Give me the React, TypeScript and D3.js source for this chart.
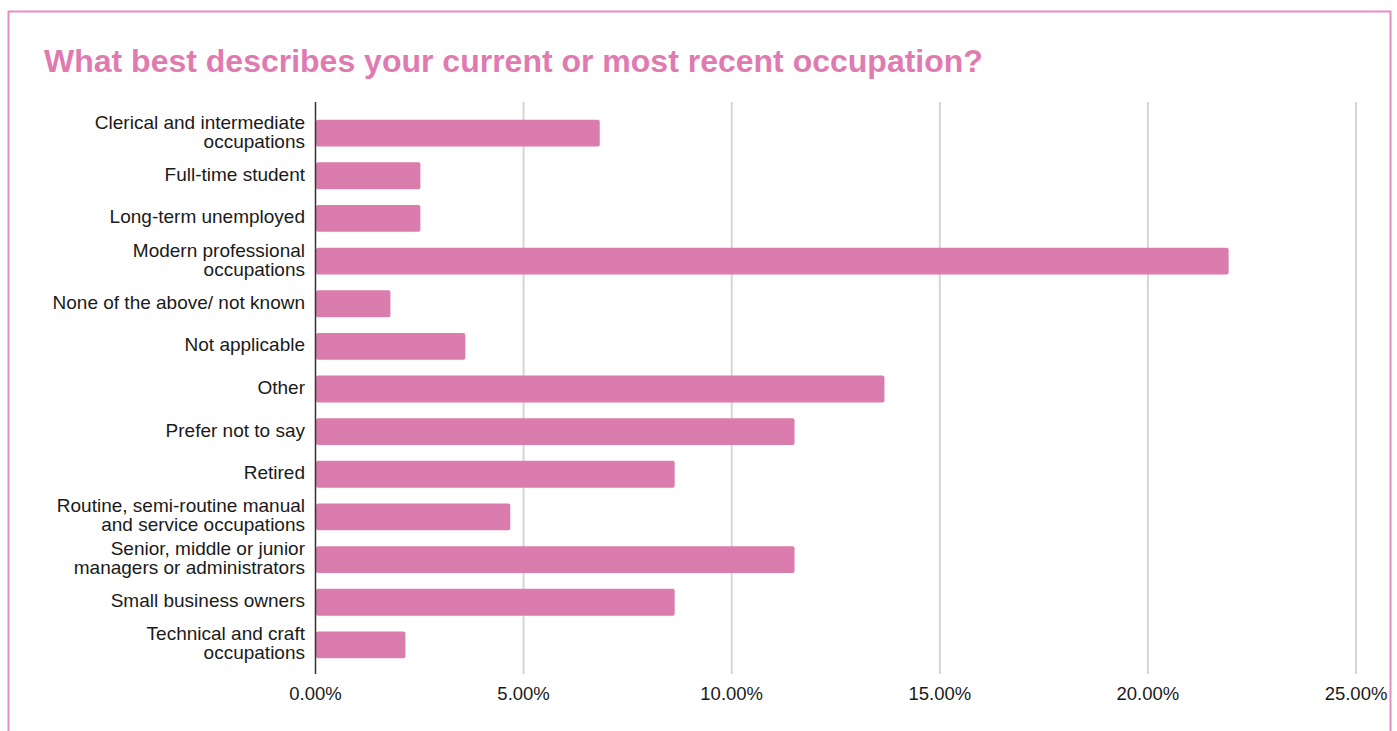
import React from "react";
import * as d3 from "d3";

const title = "What best describes your current or most recent occupation?";

const categories = [
  "Clerical and intermediate\noccupations",
  "Full-time student",
  "Long-term unemployed",
  "Modern professional\noccupations",
  "None of the above/ not known",
  "Not applicable",
  "Other",
  "Prefer not to say",
  "Retired",
  "Routine, semi-routine manual\nand service occupations",
  "Senior, middle or junior\nmanagers or administrators",
  "Small business owners",
  "Technical and craft\noccupations",
];

// share of respondents, in %
const values = [6.83, 2.52, 2.52, 21.94, 1.8, 3.6, 13.67, 11.51, 8.63, 4.68, 11.51, 8.63, 2.16];

const tickValues = [0, 5, 10, 15, 20, 25];

const W = 1397;
const H = 731;
const FONT = "'Liberation Sans', Arial, sans-serif";
const BAR = "#db7cae";

export default function App() {
  const x = d3.scaleLinear().domain([0, 25]).range([315.5, 1356]);
  const y = d3
    .scaleBand<number>()
    .domain(d3.range(categories.length))
    .range([103.5, 674.5])
    .paddingInner(0.37)
    .paddingOuter(0.38);
  const bw = y.bandwidth();
  const lineH = 19;
  const fmt = (v: number) => d3.format(".2f")(v) + "%";

  return (
    <svg
      width={W}
      height={H}
      style={{ position: "absolute", left: 0, top: 0, background: "#fff" }}
      fontFamily={FONT}
    >
      <rect x={8.5} y={11.5} width={1382} height={760} fill="#fff" stroke="#e88bbf" strokeWidth={2} />
      <text x={44} y={72} fill="#e07bb2" fontSize={32} fontWeight="bold">
        {title}
      </text>

      {tickValues.slice(1).map((t) => (
        <line key={"g" + t} x1={x(t)} x2={x(t)} y1={102} y2={674} stroke="#d6d6d6" strokeWidth={2} />
      ))}

      {values.map((v, i) => (
        <rect
          key={"b" + i}
          x={x(0) + 0.5}
          y={y(i)}
          width={x(v) - x(0) - 0.5}
          height={bw}
          rx={2}
          fill={BAR}
        />
      ))}

      <line x1={x(0)} x2={x(0)} y1={102} y2={674} stroke="#333" strokeWidth={1.5} />

      {categories.map((c, i) => {
        const lines = c.split("\n");
        const cy = (y(i) as number) + bw / 2;
        return (
          <text key={"l" + i} x={305} textAnchor="end" fontSize={19} fill="#1a1a1a">
            {lines.map((ln, j) => (
              <tspan key={j} x={305} y={cy + (j - (lines.length - 1) / 2) * lineH - 1.5} dy="0.34em">
                {ln}
              </tspan>
            ))}
          </text>
        );
      })}

      {tickValues.map((t) => (
        <text key={"t" + t} x={x(t)} y={700} textAnchor="middle" fontSize={18.5} fill="#1a1a1a">
          {fmt(t)}
        </text>
      ))}
    </svg>
  );
}
